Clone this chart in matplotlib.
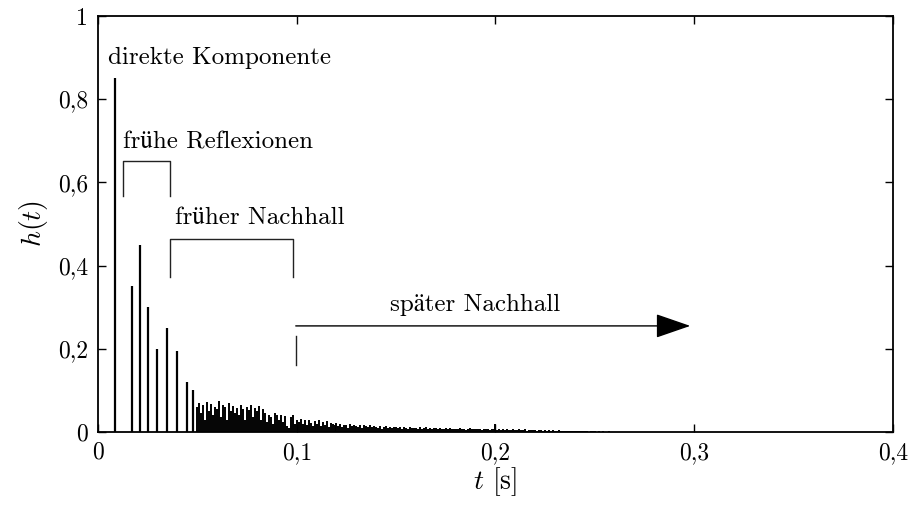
import matplotlib
matplotlib.use('Agg')
import matplotlib.pyplot as plt
from matplotlib.patches import FancyArrowPatch
import numpy as np

# diskrete Anteile (Direktschall + fruehe Reflexionen)
t_peaks = [0.0085, 0.0171, 0.0211, 0.0251, 0.0296, 0.0347, 0.0397, 0.0446, 0.0478]
h_peaks = [0.85, 0.35, 0.45, 0.30, 0.20, 0.25, 0.195, 0.12, 0.10]

# Nachhall, 1 ms Raster ab 0.050 s
t_start = 0.050
h_tail = [
    0.060, 0.070, 0.045, 0.065, 0.030, 0.072, 0.050, 0.068, 0.040, 0.060,
    0.055, 0.075, 0.035, 0.065, 0.060, 0.030, 0.070, 0.050, 0.062, 0.045,
    0.058, 0.040, 0.065, 0.055, 0.030, 0.060, 0.052, 0.064, 0.035, 0.058,
    0.050, 0.062, 0.030, 0.056, 0.045, 0.025, 0.040, 0.035, 0.020, 0.045,
    0.040, 0.030, 0.042, 0.025, 0.038, 0.015, 0.010, 0.035, 0.040, 0.020,
    0.030, 0.025, 0.032, 0.020, 0.028, 0.018, 0.030, 0.022, 0.015, 0.026,
    0.020, 0.028, 0.015, 0.024, 0.018, 0.026, 0.012, 0.022, 0.020, 0.016,
    0.022, 0.015, 0.020, 0.012, 0.018, 0.016, 0.010, 0.020, 0.014, 0.017,
    0.015, 0.012, 0.018, 0.010, 0.016, 0.014, 0.011, 0.017, 0.012, 0.015,
    0.013, 0.010, 0.015, 0.008, 0.012, 0.014, 0.010, 0.012, 0.009, 0.013,
    0.012, 0.009, 0.011, 0.008, 0.013, 0.010, 0.007, 0.011, 0.009, 0.010,
    0.010, 0.008, 0.011, 0.007, 0.009, 0.012, 0.008, 0.010, 0.007, 0.009,
    0.009, 0.007, 0.010, 0.008, 0.006, 0.009, 0.008, 0.010, 0.006, 0.008,
    0.008, 0.006, 0.009, 0.007, 0.008, 0.005, 0.007, 0.009, 0.006, 0.007,
    0.007, 0.006, 0.008, 0.005, 0.007, 0.006, 0.008, 0.005, 0.006, 0.007,
    0.020, 0.005, 0.006, 0.004, 0.007, 0.005, 0.006, 0.004, 0.005, 0.006,
    0.005, 0.004, 0.006, 0.005, 0.004, 0.006, 0.003, 0.005, 0.004, 0.005,
    0.004, 0.003, 0.005, 0.004, 0.003, 0.004, 0.003, 0.004, 0.003, 0.004,
    0.003, 0.003, 0.004, 0.002, 0.003, 0.003, 0.002, 0.003, 0.002, 0.003,
    0.002, 0.003, 0.002, 0.002, 0.003, 0.002, 0.002, 0.001, 0.002, 0.002,
    0.002, 0.001, 0.002, 0.001, 0.002, 0.001, 0.001, 0.002, 0.001, 0.001,
]

xticks = [0, 0.1, 0.2, 0.3, 0.4]
xticklabels = ['0', '0,1', '0,2', '0,3', '0,4']
yticks = [0, 0.2, 0.4, 0.6, 0.8, 1.0]
yticklabels = ['0', '0,2', '0,4', '0,6', '0,8', '1']

# cmr10 hat keine Umlaute -> Fallback
plt.rcParams['font.family'] = ['cmr10', 'STIXGeneral', 'DejaVu Serif']
plt.rcParams['mathtext.fontset'] = 'cm'
plt.rcParams['axes.unicode_minus'] = False

fig = plt.figure(figsize=(9.1, 5.09), dpi=100)
ax = fig.add_axes([0.1077, 0.1513, 0.8736, 0.8173])

t_tail = t_start + 0.001 * np.arange(len(h_tail))
ax.vlines(t_tail, 0, h_tail, color='k', lw=1.4)
ax.vlines(t_peaks, 0, h_peaks, color='k', lw=1.6)

ax.set_xlim(0, 0.4)
ax.set_ylim(0, 1)
ax.set_xticks(xticks)
ax.set_xticklabels(xticklabels)
ax.set_yticks(yticks)
ax.set_yticklabels(yticklabels)
ax.tick_params(direction='in', top=True, right=True, length=6, width=1,
               labelsize=17, pad=7)
for s in ax.spines.values():
    s.set_linewidth(1.3)

ax.set_xlabel(r'$t$ [s]', fontsize=20, labelpad=1)
ax.set_ylabel(r'$h(t)$', fontsize=20, labelpad=6)

# Beschriftungen
lc = '#222222'
fs = 18
ax.text(0.005, 0.898, 'direkte Komponente', fontsize=fs, va='center')

ax.plot([0.0127, 0.0127, 0.036, 0.036], [0.567, 0.651, 0.651, 0.567], color=lc, lw=1)
ax.text(0.0126, 0.697, 'frühe Reflexionen', fontsize=fs, va='center')

ax.plot([0.036, 0.036, 0.0983, 0.0983], [0.372, 0.463, 0.463, 0.372], color=lc, lw=1)
ax.text(0.0387, 0.515, 'früher Nachhall', fontsize=fs, va='center')

ax.plot([0.0995, 0.0995], [0.161, 0.231], color=lc, lw=1)
arr = FancyArrowPatch((0.0995, 0.255), (0.298, 0.255),
                      arrowstyle='-|>,head_length=1.1,head_width=0.38',
                      mutation_scale=20, color='k', lw=1, shrinkA=0, shrinkB=0)
ax.add_patch(arr)
ax.text(0.147, 0.305, 'später Nachhall', fontsize=fs, va='center')

fig.savefig('out.png', dpi=100)
